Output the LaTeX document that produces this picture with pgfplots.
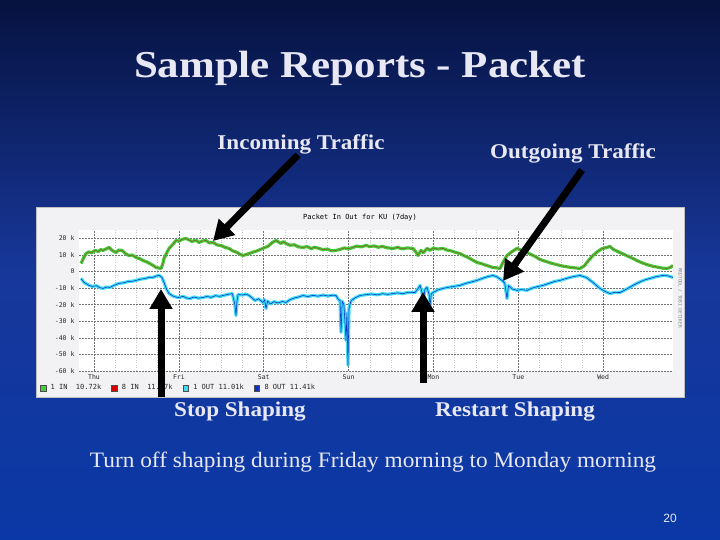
\documentclass[border=0pt]{standalone}
\usepackage{pgfplots}
\pgfplotsset{compat=1.18}
\usepackage{pgfplotstable}
\usepackage{fontspec}
\setmainfont{Liberation Serif}
\newfontfamily\rrdfont{DejaVu Sans Mono}
\newfontfamily\sansfont{Liberation Sans}
\usetikzlibrary{arrows.meta}
\definecolor{slidetxt}{HTML}{E8E8F4}
\definecolor{bgtop}{HTML}{061240}
\definecolor{bgmid}{HTML}{17379A}
\definecolor{bgbot}{HTML}{0A38A6}
\definecolor{ingreen}{HTML}{44CC3C}
\definecolor{inbrown}{HTML}{8A5A20}
\definecolor{outcyan}{HTML}{40DCF2}
\definecolor{outblue}{HTML}{1030C8}
\definecolor{panel}{HTML}{F2F2F4}

\pgfplotstableread{
d v
-0.153 4.8
-0.12 8.5
-0.094 10.8
-0.06 11.8
-0.03 11.2
0.012 12.7
0.05 12.0
0.08 13.2
0.106 12.7
0.14 13.5
0.177 14.5
0.21 12.8
0.259 11.4
0.29 12.9
0.33 12.7
0.37 10.8
0.412 9.6
0.45 9.9
0.50 8.3
0.54 7.7
0.577 6.6
0.62 5.8
0.66 4.7
0.70 3.5
0.731 2.4
0.76 2.1
0.79 1.8
0.81 4.5
0.825 7.8
0.85 10.5
0.884 13.9
0.92 15.8
0.966 18.7
1.00 18.2
1.04 19.4
1.084 19.9
1.12 19.0
1.155 18.1
1.20 18.9
1.237 17.5
1.28 18.4
1.32 18.7
1.36 17.2
1.402 17.5
1.45 16.0
1.50 15.6
1.55 14.4
1.591 13.9
1.63 12.5
1.68 11.6
1.72 10.4
1.756 9.6
1.79 10.2
1.827 10.8
1.87 11.6
1.92 12.4
1.991 13.9
2.05 15.2
2.10 17.4
2.145 18.7
2.18 17.6
2.204 16.9
2.23 18.0
2.262 16.9
2.31 15.8
2.36 16.1
2.41 14.8
2.463 14.5
2.51 15.0
2.56 13.8
2.60 14.6
2.651 13.9
2.70 13.1
2.75 13.5
2.80 12.4
2.852 12.7
2.90 13.3
2.95 14.2
3.00 13.6
3.052 14.5
3.10 15.3
3.15 14.8
3.205 15.7
3.25 15.0
3.30 15.4
3.35 14.6
3.40 15.1
3.45 14.3
3.523 13.9
3.58 14.5
3.63 13.6
3.69 14.2
3.759 13.9
3.79 12.0
3.818 9.6
3.853 12.7
3.88 11.3
3.924 13.9
3.96 12.8
4.00 14.1
4.05 13.5
4.113 13.9
4.16 12.9
4.21 12.4
4.26 11.5
4.313 10.8
4.36 9.5
4.41 8.4
4.46 6.9
4.513 5.4
4.56 4.8
4.61 3.9
4.66 3.1
4.702 2.4
4.74 2.2
4.784 1.8
4.82 5.5
4.867 9.6
4.92 11.8
4.985 13.9
5.04 12.8
5.103 11.4
5.15 10.2
5.20 9.0
5.25 7.4
5.291 6.6
5.34 5.8
5.40 4.8
5.45 4.2
5.491 3.6
5.55 3.0
5.60 2.6
5.66 2.2
5.727 1.8
5.78 3.5
5.83 6.8
5.880 9.6
5.93 11.8
5.98 13.6
6.045 14.5
6.08 15.1
6.12 13.3
6.198 11.4
6.25 10.2
6.30 9.0
6.352 7.8
6.40 6.5
6.45 5.4
6.50 4.4
6.552 3.6
6.60 3.0
6.65 2.5
6.70 2.0
6.752 1.8
6.79 2.4
6.823 3.6
}\intable

\pgfplotstableread{
d v
-0.153 -4.2
-0.12 -6.5
-0.059 -8.4
-0.02 -9.0
0.03 -8.6
0.07 -9.8
0.106 -10.2
0.15 -9.4
0.189 -9.6
0.24 -8.3
0.295 -7.2
0.35 -6.8
0.40 -6.1
0.45 -5.9
0.495 -5.4
0.55 -4.6
0.60 -4.3
0.65 -3.5
0.695 -3.6
0.73 -2.8
0.766 -2.4
0.80 -3.5
0.825 -6.6
0.85 -10.2
0.884 -13.3
0.93 -14.8
0.97 -15.5
1.002 -15.7
1.05 -15.0
1.09 -16.0
1.131 -16.3
1.18 -15.4
1.23 -16.1
1.284 -15.7
1.33 -15.1
1.38 -15.6
1.43 -14.6
1.48 -15.0
1.52 -14.5
1.58 -13.8
1.63 -13.3
1.66 -20.0
1.673 -26.5
1.685 -18.0
1.697 -13.9
1.75 -14.2
1.79 -13.6
1.827 -14.5
1.86 -15.8
1.897 -17.5
1.94 -16.5
1.991 -18.7
2.01 -17.0
2.027 -22.3
2.045 -17.8
2.08 -19.6
2.12 -18.2
2.17 -19.0
2.22 -18.1
2.262 -18.7
2.31 -17.0
2.36 -16.0
2.41 -15.4
2.463 -14.5
2.52 -15.1
2.58 -14.4
2.64 -14.9
2.70 -14.2
2.76 -14.8
2.81 -14.3
2.852 -14.5
2.88 -17.0
2.899 -17.5
2.911 -36.7
2.925 -18.0
2.945 -20.0
2.97 -41.6
2.98 -25.0
2.993 -56.6
3.005 -22.0
3.03 -17.6
3.08 -15.8
3.135 -14.5
3.20 -14.0
3.27 -13.6
3.34 -14.1
3.40 -13.4
3.46 -13.8
3.523 -13.3
3.58 -12.9
3.64 -13.4
3.70 -12.6
3.783 -12.7
3.81 -11.0
3.842 -8.4
3.86 -11.5
3.88 -17.5
3.90 -10.8
3.924 -9.6
3.95 -14.0
3.96 -20.5
3.975 -13.5
3.995 -12.7
4.05 -11.2
4.113 -10.2
4.17 -9.6
4.24 -9.0
4.313 -8.4
4.38 -7.2
4.45 -6.3
4.513 -5.4
4.57 -4.3
4.64 -3.1
4.702 -2.4
4.75 -3.3
4.808 -5.4
4.84 -7.0
4.867 -16.3
4.885 -8.5
4.93 -10.6
4.985 -11.4
5.04 -10.9
5.103 -11.4
5.16 -10.1
5.23 -9.1
5.291 -8.4
5.36 -7.2
5.43 -6.0
5.491 -5.4
5.56 -4.3
5.64 -3.2
5.727 -2.4
5.80 -3.6
5.880 -6.6
5.95 -9.8
6.02 -12.0
6.080 -13.3
6.14 -12.6
6.198 -12.7
6.27 -10.8
6.352 -8.4
6.42 -6.6
6.49 -5.1
6.552 -4.2
6.62 -3.2
6.705 -2.4
6.76 -2.6
6.823 -3.6
}\outtable

\begin{document}
\begin{tikzpicture}[x=1pt,y=1pt]
% slide background
\shade[top color=bgtop, bottom color=bgbot, middle color=bgmid] (0,0) rectangle (720,540);
% chart panel
\fill[panel] (36,143) rectangle (684,333);
\draw[black!25] (36,143) rectangle (684,333);

\begin{axis}[
  at={(79pt,169pt)}, anchor=south west,
  scale only axis, width=594pt, height=141pt,
  xmin=-0.177, xmax=6.823, ymin=-60, ymax=25,
  xtick={0,...,6}, xticklabels={Thu,Fri,Sat,Sun,Mon,Tue,Wed},
  minor x tick num=3,
  ytick={-60,-50,...,20},
  yticklabels={-60 k,-50 k,-40 k,-30 k,-20 k,-10 k,0,10 k,20 k},
  grid=both,
  major grid style={dash pattern=on 1.5pt off 1.5pt, black!55, line width=0.5pt},
  minor grid style={dash pattern=on 1pt off 1.5pt, black!22, line width=0.4pt},
  major tick length=0pt, minor tick length=0pt,
  axis line style={draw=none},
  axis background/.style={fill=white},
  tick label style={font=\rrdfont\fontsize{6.5}{7}\selectfont, text=black!85},
  xticklabel style={yshift=0pt},
  yticklabel style={xshift=-1pt},
  clip=true,
  legend columns=4,
  legend style={at={(-0.066,-0.12)}, anchor=west, draw=none, fill=none,
    font=\rrdfont\fontsize{7}{8}\selectfont, text=black!85,
    /tikz/every even column/.append style={column sep=8pt},
    inner sep=0pt},
  legend image code/.code={\draw[#1] (0pt,-2.8pt) rectangle (5.6pt,2.8pt); \path[draw=none,fill=none] (8.5pt,0pt) circle (0.01pt);},
]
\addplot[ingreen, line width=3.2pt, line join=round, forget plot] table[x=d,y=v] {\intable};
\addplot[inbrown, line width=0.55pt, line join=round, forget plot] table[x=d,y=v] {\intable};
\addplot[outcyan, line width=3.2pt, line join=round, forget plot] table[x=d,y=v] {\outtable};
\addplot[outblue, line width=0.55pt, line join=round, forget plot] table[x=d,y=v] {\outtable};
\draw[black!80, line width=0.6pt] (rel axis cs:0,0) -- (rel axis cs:1,0);
\addlegendimage{fill=ingreen, draw=black!70}
\addlegendentry{1 IN\ \ 10.72k}
\addlegendimage{fill=red!85!black, draw=black!70}
\addlegendentry{8 IN\ \ 11.07k}
\addlegendimage{fill=outcyan, draw=black!70}
\addlegendentry{1 OUT\ 11.01k}
\addlegendimage{fill=outblue, draw=black!70}
\addlegendentry{8 OUT\ 11.41k}
\end{axis}

% chart title and side text
\node[font=\rrdfont\fontsize{7}{8}\selectfont, text=black] at (360,322) {Packet In Out for KU (7day)};
\node[font=\rrdfont\fontsize{4.5}{5}\selectfont, text=black!50, rotate=-90] at (680,242) {RRDTOOL / TOBI OETIKER};

% slide texts
\node[font=\bfseries\fontsize{38}{42}\selectfont, text=slidetxt, xscale=1.13] at (360,472) {Sample Reports - Packet};
\node[font=\bfseries\fontsize{21}{24}\selectfont, text=slidetxt, xscale=1.1] at (301,396) {Incoming Traffic};
\node[font=\bfseries\fontsize{21}{24}\selectfont, text=slidetxt, xscale=1.1] at (573,387) {Outgoing Traffic};
\node[font=\bfseries\fontsize{21}{24}\selectfont, text=slidetxt, xscale=1.1] at (240,128) {Stop Shaping};
\node[font=\bfseries\fontsize{21}{24}\selectfont, text=slidetxt, xscale=1.1] at (515,128) {Restart Shaping};
\node[font=\fontsize{22}{26}\selectfont, text=slidetxt, xscale=1.06] at (373,78) {Turn off shaping during Friday morning to Monday morning};
\node[font=\sansfont\fontsize{12}{14}\selectfont, text=slidetxt] at (670,22) {20};

% arrows
\begin{scope}[line width=7pt, -{Triangle[length=20pt,width=22pt]}, black]
\draw (298,385) -- (213,299);
\draw (582,370) -- (503,259);
\draw (161,143) -- (161,251);
\draw (423,157) -- (423,248);
\end{scope}
\end{tikzpicture}
\end{document}
